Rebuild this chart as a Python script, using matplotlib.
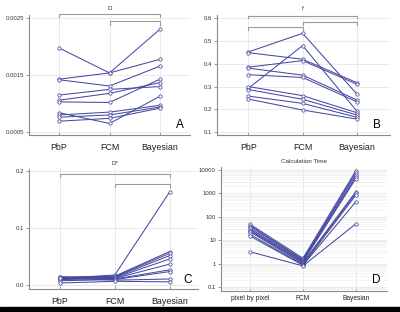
import matplotlib
matplotlib.use("Agg")
import matplotlib.pyplot as plt
import numpy as np
from matplotlib.ticker import FixedLocator, FuncFormatter, LogLocator, NullFormatter
from matplotlib.patches import Rectangle

plt.rcParams['font.family'] = ['Liberation Sans', 'DejaVu Sans']

categories = ["PbP", "FCM", "Bayesian"]
categories_time = ["pixel by pixel", "FCM", "Bayesian"]

# Panel A: D
D_pbp = [0.00198, 0.00143, 0.00142, 0.00115, 0.00106, 0.00103, 0.00084, 0.00080, 0.00076, 0.00069]
D_fcm = [0.00154, 0.00154, 0.00131, 0.00125, 0.00118, 0.00102, 0.00065, 0.00085, 0.00080, 0.00074]
D_bay = [0.00231, 0.00178, 0.00166, 0.00130, 0.00137, 0.00143, 0.00113, 0.00097, 0.00094, 0.00092]

# Panel B: f
f_pbp = [0.452, 0.449, 0.385, 0.381, 0.352, 0.292, 0.300, 0.287, 0.258, 0.245]
f_fcm = [0.534, 0.420, 0.414, 0.350, 0.340, 0.480, 0.260, 0.244, 0.226, 0.197]
f_bay = [0.267, 0.317, 0.310, 0.241, 0.233, 0.192, 0.185, 0.175, 0.165, 0.157]

# Panel C: D*
Ds_pbp = [0.012, 0.014, 0.013, 0.011, 0.015, 0.010, 0.012, 0.008, 0.013, 0.004]
Ds_fcm = [0.018, 0.016, 0.015, 0.014, 0.013, 0.012, 0.011, 0.010, 0.009, 0.007]
Ds_bay = [0.163, 0.059, 0.056, 0.052, 0.046, 0.037, 0.027, 0.024, 0.011, 0.006]

# Panel D: calculation time
t_pbp = [48, 42, 38, 32, 28, 25, 23, 18, 15, 3.2]
t_fcm = [1.7, 1.5, 1.4, 1.3, 1.2, 1.1, 1.0, 0.9, 0.85, 0.8]
t_bay = [9300, 7700, 6300, 5000, 4300, 1180, 1000, 850, 440, 50]

LINE = '#4649a0'
GRID = '#e6e6e6'
SPINE = '#8a8a8a'
BRK = '#9a9a9a'

fig = plt.figure(figsize=(4.0, 3.12), dpi=100)
H = 312.0
W = 400.0

def mk_axes(left_px, right_px, bottom_px, top_px):
    return fig.add_axes([left_px / W, 1 - bottom_px / H, (right_px - left_px) / W, (bottom_px - top_px) / H])

axA = mk_axes(29, 190, 135, 15)
axB = mk_axes(217, 390, 135, 15)
axC = mk_axes(29.3, 198, 289.3, 169)
axD = mk_axes(220.7, 387, 290.7, 166.7)

def style(ax, labels, labsize, pad):
    for s in ['top', 'right']:
        ax.spines[s].set_visible(False)
    for s in ['left', 'bottom']:
        ax.spines[s].set_color(SPINE)
        ax.spines[s].set_linewidth(0.8)
    ax.set_xticks(range(3))
    ax.set_xticklabels(labels, fontsize=labsize, color='#222222')
    ax.tick_params(axis='x', length=2, width=0.6, color=SPINE, pad=pad, direction='in')
    ax.tick_params(axis='y', length=2, width=0.6, color=SPINE, pad=1.5, labelsize=4.3, labelcolor='#333333')
    ax.grid(True, color=GRID, linewidth=0.6)
    ax.set_axisbelow(True)

def draw(ax, a, b, c):
    x = np.arange(3)
    for i in range(len(a)):
        ax.plot(x, [a[i], b[i], c[i]], color=LINE, lw=0.75, marker='o', ms=2.4,
                mfc='white', mec=LINE, mew=0.55, clip_on=False, zorder=3)

def bracket(ax, x0, x1, y, drop):
    tr = ax.get_xaxis_transform()
    ax.plot([x0, x0, x1, x1], [y - drop, y, y, y - drop], color=BRK, lw=0.8,
            transform=tr, clip_on=False)

# Panel A
draw(axA, D_pbp, D_fcm, D_bay)
style(axA, categories, 6.4, 5.5)
axA.set_xlim(-0.594, 2.594)
axA.set_ylim(0.000447, 0.00256)
axA.set_yticks([0.0005, 0.0015, 0.0025])
axA.set_yticklabels(["0.0005", "0.0015", "0.0025"])
bracket(axA, 0, 2, 1.008, 0.025)
bracket(axA, 1, 2, 0.9475, 0.027)
axA.text(1, 1.05, "D", transform=axA.get_xaxis_transform(), ha='center', va='center', fontsize=4.5, color='#333333')
axA.text(0.94, 0.083, "A", transform=axA.transAxes, ha='center', va='center', fontsize=8.5)

# Panel B
draw(axB, f_pbp, f_fcm, f_bay)
style(axB, categories, 6.4, 5.5)
axB.set_xlim(-0.577, 2.61)
axB.set_ylim(0.087, 0.6145)
axB.set_yticks([0.1, 0.2, 0.3, 0.4, 0.5, 0.6])
axB.set_yticklabels(["0.1", "0.2", "0.3", "0.4", "0.5", "0.6"])
bracket(axB, 0, 2, 0.994, 0.023)
bracket(axB, 0, 1, 0.903, 0.028)
bracket(axB, 1, 2, 0.944, 0.03)
axB.text(1, 1.05, "f", transform=axB.get_xaxis_transform(), ha='center', va='center', fontsize=4.5, color='#333333')
axB.text(0.923, 0.083, "B", transform=axB.transAxes, ha='center', va='center', fontsize=8.5)

# Panel C
draw(axC, Ds_pbp, Ds_fcm, Ds_bay)
style(axC, categories, 6.4, 5.5)
axC.set_xlim(-0.56, 2.52)
axC.set_ylim(-0.007, 0.2035)
axC.set_yticks([0.0, 0.1, 0.2])
axC.set_yticklabels(["0.0", "0.1", "0.2"])
bracket(axC, 0, 2, 0.956, 0.02)
bracket(axC, 1, 2, 0.878, 0.026)
axC.text(1, 1.042, "D*", transform=axC.get_xaxis_transform(), ha='center', va='center', fontsize=4.5, color='#333333')
axC.text(0.94, 0.077, "C", transform=axC.transAxes, ha='center', va='center', fontsize=8.5)

# Panel D
draw(axD, t_pbp, t_fcm, t_bay)
axD.set_yscale('log')
style(axD, categories_time, 4.8, 3)
axD.set_xlim(-0.556, 2.59)
axD.set_ylim(0.0695, 13900)
axD.yaxis.set_major_locator(FixedLocator([0.1, 1, 10, 100, 1000, 10000]))
axD.yaxis.set_major_formatter(FuncFormatter(lambda v, p: f"{v:g}"))
axD.yaxis.set_minor_locator(LogLocator(base=10, subs=np.arange(2, 10)))
axD.yaxis.set_minor_formatter(NullFormatter())
axD.tick_params(axis='y', which='minor', length=0)
axD.grid(True, which='minor', axis='y', color='#eeeeee', linewidth=0.5)
axD.set_title("Calculation Time", fontsize=4.5, color='#333333', pad=3)
axD.text(0.938, 0.086, "D", transform=axD.transAxes, ha='center', va='center', fontsize=8.5)

# black strip at bottom
fig.patches.append(Rectangle((0, 0), 1, 5.0 / H, transform=fig.transFigure, color='black', zorder=10))

fig.savefig("out.png", dpi=100)
